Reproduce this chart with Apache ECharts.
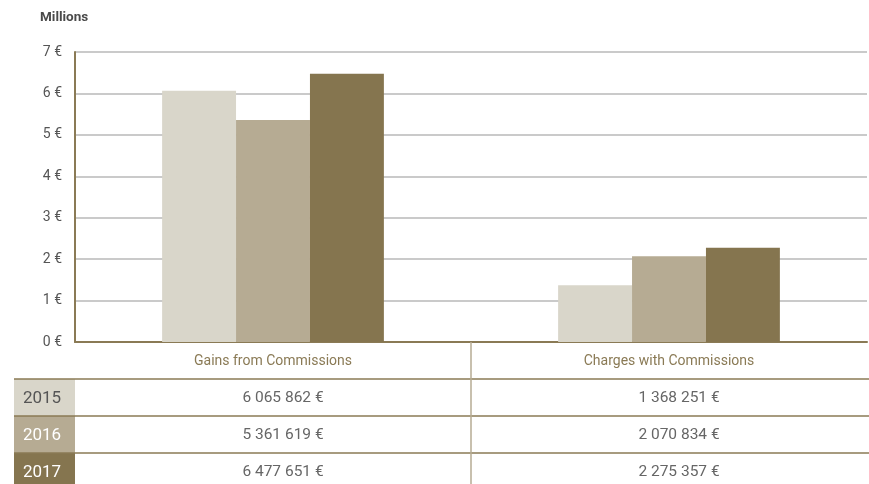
<!DOCTYPE html>
<html>
<head>
<meta charset="utf-8">
<script src="https://cdn.jsdelivr.net/npm/echarts@6/dist/echarts.min.js"></script>
<style>
  html, body { margin: 0; padding: 0; background: #fff; }
  #chart { width: 869px; height: 484px; }
</style>
</head>
<body>
<div id="chart"></div>
<script>
// Commission gains and charges per year, in euros
const categories = ['Gains from Commissions', 'Charges with Commissions'];
const years = ['2015', '2016', '2017'];
const values2015 = [6065862, 1368251];
const values2016 = [5361619, 2070834];
const values2017 = [6477651, 2275357];
const yTicks = [0, 1, 2, 3, 4, 5, 6, 7];

const seriesValues = [values2015, values2016, values2017];
const yearColors = ['#d9d6ca', '#b6ab93', '#85754f'];
const yearTextColors = ['#555555', '#ffffff', '#ffffff'];
const brown = '#8a7a55';
const font = 'Roboto, "DejaVu Sans", sans-serif';

function euro(v) {
  return String(v).replace(/\B(?=(\d{3})+(?!\d))/g, ' ') + ' €';
}

const chart = echarts.init(document.getElementById('chart'));

chart.setOption({
  animation: false,
  textStyle: { fontFamily: font },
  grid: { left: 75, right: 2, top: 52, bottom: 142 },
  xAxis: {
    type: 'category',
    data: categories,
    axisLine: { lineStyle: { color: brown, width: 2 } },
    axisTick: { show: false },
    axisLabel: { color: '#8a7a55', fontSize: 14, margin: 12, fontFamily: font }
  },
  yAxis: {
    type: 'value',
    min: yTicks[0],
    max: yTicks[yTicks.length - 1],
    interval: 1,
    axisLine: { show: true, lineStyle: { color: brown, width: 2 } },
    axisTick: { show: false },
    axisLabel: { color: '#555555', fontSize: 14, margin: 13, formatter: v => v + ' €', fontFamily: font },
    splitLine: { lineStyle: { color: '#b8b8b8', width: 1.5 } }
  },
  series: years.map((y, i) => ({
    name: y,
    type: 'bar',
    data: seriesValues[i].map(v => v / 1e6),
    barGap: '0%',
    barCategoryGap: '44%',
    itemStyle: { color: yearColors[i] },
    z: 1
  }))
});

// Data table below the plot, aligned to the category columns
function drawTable() {
  const elements = [];
  const top = 342, headerBottom = 379, rowH = 37, left = 14, yearRight = 75, right = 869;
  const centers = categories.map(c => chart.convertToPixel({ xAxisIndex: 0 }, c));
  const divider = (centers[0] + centers[1]) / 2;

  elements.push({
    type: 'text', left: 40, top: 11,
    style: { text: 'Millions', fill: '#4a4a4a', font: 'bold 13.5px ' + font }
  });

  years.forEach((y, i) => {
    const y0 = headerBottom + i * rowH;
    elements.push({
      type: 'rect', shape: { x: left, y: y0, width: yearRight - left, height: rowH },
      style: { fill: yearColors[i] }, z: 1
    });
    elements.push({
      type: 'text', x: 42, y: y0 + rowH / 2 + 1,
      style: { text: y, fill: yearTextColors[i], font: '17px ' + font, align: 'center', verticalAlign: 'middle' }, z: 3
    });
    categories.forEach((c, j) => {
      elements.push({
        type: 'text', x: centers[j] + 10, y: y0 + rowH / 2 + 1,
        style: { text: euro(seriesValues[i][j]), fill: '#666666', font: '15.5px ' + font, align: 'center', verticalAlign: 'middle' }, z: 3
      });
    });
    elements.push({
      type: 'line', shape: { x1: left, y1: y0, x2: right, y2: y0 },
      style: { stroke: brown, lineWidth: 1.5 }, z: 2
    });
  });

  elements.push({
    type: 'line', shape: { x1: divider, y1: top, x2: divider, y2: 484 },
    style: { stroke: '#b6ab93', lineWidth: 1.5 }, z: 2
  });

  chart.setOption({ graphic: elements });
}
drawTable();
</script>
</body>
</html>
